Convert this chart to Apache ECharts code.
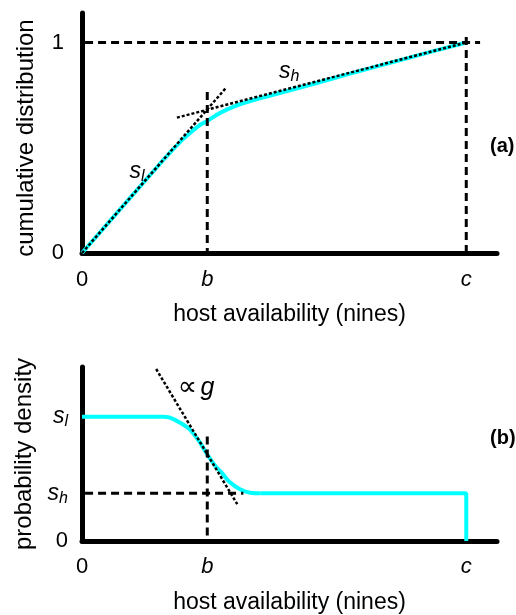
<!DOCTYPE html>
<html>
<head>
<meta charset="utf-8">
<style>html,body{margin:0;padding:0;background:#fff}#c{width:516px;height:615px}</style>
<script src="https://cdn.jsdelivr.net/npm/echarts@6/dist/echarts.min.js"></script>
</head>
<body>
<div id="c"></div>
<script>
// ---- axis ticks ----
const xTickValues = [0, 0.326, 1];
const xTickLabels = ['0', '{i|b}', '{i|c}'];
const cdfTickValues = [0, 1];
const cdfTickLabels = ['0', '1'];
const pdfTickValues = [0, 0.384, 1];
const pdfTickLabels = ['0', '{s|s}{sub|h}', '{s|s}{sub|l}'];

// ---- (a) cumulative distribution ----
const cdfX = [0, 0.216, 0.255, 0.281, 0.307, 0.326, 0.359, 0.398, 0.438, 0.490, 0.568, 0.700, 0.850, 1];
const cdfY = [0, 0.451, 0.527, 0.570, 0.608, 0.627, 0.665, 0.698, 0.722, 0.748, 0.786, 0.853, 0.927, 1];
const slopeLowX = [0, 0.375];
const slopeLowY = [0, 0.785];
const slopeHighX = [0.247, 1];
const slopeHighY = [0.643, 1];
const cdfRefH = {x: [0.008, 1.036], y: [1, 1]};
const cdfRefB = {x: [0.326, 0.326], y: [0.765, 0]};
const cdfRefC = {x: [1, 1], y: [1.026, 0]};
const cdfNotes = [[0.143, 0.385, '{s|s}{sub|l}'], [0.539, 0.860, '{s|s}{sub|h}']];

// ---- (b) probability density ----
const pdfX = [0, 0.211, 0.229, 0.255, 0.281, 0.307, 0.326, 0.346, 0.365, 0.385, 0.411, 0.438, 0.464];
const pdfY = [1, 1, 0.992, 0.952, 0.896, 0.792, 0.696, 0.608, 0.544, 0.472, 0.416, 0.388, 0.384];
const pdfTailX = [0.464, 1, 1];
const pdfTailY = [0.384, 0.384, 0];
const gradX = [0.193, 0.404];
const gradY = [1.384, 0.296];
const pdfRefH = {x: [0.008, 0.42], y: [0.384, 0.384]};
const pdfRefB = {x: [0.326, 0.326], y: [0.84, 0]};
const pdfNotes = [[0.297, 1.232, '{n|∝} {i|g}']];

const FONT = "'Liberation Sans', Arial, sans-serif";
const CYAN = '#00FFFF';
const pair = (xs, ys) => xs.map((x, i) => [x, ys[i]]);
const label = (vals, labs) => v => { const i = vals.findIndex(t => Math.abs(t - v) < 1e-9); return i < 0 ? '' : labs[i]; };

const tok = extra => Object.assign({fontFamily: FONT, color: '#000', textBorderWidth: 0, textShadowBlur: 0}, extra);
const richBase = {
  i: tok({fontStyle: 'italic', fontSize: 22}),
  s: tok({fontStyle: 'italic', fontSize: 23}),
  sub: tok({fontStyle: 'italic', fontSize: 16, verticalAlign: 'bottom', padding: [10, 0, 0, 0]}),
  n: tok({fontSize: 27, fontFamily: "'DejaVu Sans', sans-serif"})
};
const richNote = Object.assign({}, richBase, {i: tok({fontStyle: 'italic', fontSize: 25})});

const axisLine = {show: true, onZero: false, lineStyle: {color: '#000', width: 5, cap: 'round'}};

function xAxis(idx, name, gap, margin) {
  return {
    type: 'value', gridIndex: idx, min: 0, max: 1.08,
    name: name, nameLocation: 'middle', nameGap: gap,
    nameTextStyle: {fontSize: 23, fontFamily: FONT, color: '#000'},
    axisLine: axisLine, axisTick: {show: false}, splitLine: {show: false},
    axisLabel: {customValues: xTickValues, formatter: label(xTickValues, xTickLabels),
      fontSize: 22, fontFamily: FONT, color: '#000', margin: margin, rich: richBase}
  };
}
function yAxis(idx, name, max, vals, labs, margin, pad) {
  return {
    type: 'value', gridIndex: idx, min: 0, max: max,
    name: name, nameLocation: 'middle', nameGap: 44, nameRotate: 90,
    nameTextStyle: {fontSize: 24, fontFamily: FONT, color: '#000', padding: pad},
    axisLine: axisLine, axisTick: {show: false}, splitLine: {show: false},
    axisLabel: {customValues: vals, formatter: label(vals, labs),
      fontSize: 22, fontFamily: FONT, color: '#000', margin: margin, rich: richBase}
  };
}
function seg(g, data, color, width, type, z) {
  return {type: 'line', xAxisIndex: g, yAxisIndex: g, data: data, symbol: 'none', silent: true, z: z,
    lineStyle: {color: color, width: width, type: type, cap: 'butt'}, animation: false};
}
function notes(g, arr) {
  return {type: 'scatter', xAxisIndex: g, yAxisIndex: g, symbolSize: 0, silent: true, z: 10, animation: false,
    itemStyle: {color: '#000', opacity: 1},
    data: arr.map(a => ({value: [a[0], a[1]], label: {formatter: a[2]}})),
    label: {show: true, position: 'inside', rich: richNote, fontFamily: FONT, color: '#000', textBorderWidth: 0, opacity: 1}};
}

const DOT = [3, 2], DASH = [8, 5];
const chart = echarts.init(document.getElementById('c'), null, {renderer: 'canvas'});
chart.setOption({
  animation: false,
  backgroundColor: '#fff',
  grid: [
    {left: 82, top: 13, width: 415, height: 240},
    {left: 82, top: 367, width: 415, height: 175}
  ],
  xAxis: [xAxis(0, 'host availability (nines)', 50, 16), xAxis(1, 'host availability (nines)', 50, 15)],
  yAxis: [yAxis(0, 'cumulative distribution', 1.14, cdfTickValues, cdfTickLabels, 18, [0, 10, 0, 0]),
          yAxis(1, 'probability density', 1.4, pdfTickValues, pdfTickLabels, 14, 0)],
  graphic: [
    {type: 'text', left: 490, top: 136, style: {text: '(a)', font: 'bold 20px ' + FONT, fill: '#000'}},
    {type: 'text', left: 490, top: 428, style: {text: '(b)', font: 'bold 20px ' + FONT, fill: '#000'}}
  ],
  series: [
    Object.assign(seg(0, pair(cdfX, cdfY), CYAN, 4, 'solid', 2), {smooth: 0.3}),
    seg(0, pair(cdfRefH.x, cdfRefH.y), '#000', 3, DASH, 3),
    seg(0, pair(cdfRefB.x, cdfRefB.y), '#000', 3, DASH, 3),
    seg(0, pair(cdfRefC.x, cdfRefC.y), '#000', 3, DASH, 3),
    seg(0, pair(slopeLowX, slopeLowY), '#000', 2.5, DOT, 4),
    seg(0, pair(slopeHighX, slopeHighY), '#000', 2.5, DOT, 4),
    notes(0, cdfNotes),
    Object.assign(seg(1, pair(pdfX, pdfY), CYAN, 4, 'solid', 2), {smooth: 0.3}),
    seg(1, pair(pdfTailX, pdfTailY), CYAN, 4, 'solid', 2),
    seg(1, pair(pdfRefH.x, pdfRefH.y), '#000', 3, DASH, 3),
    seg(1, pair(pdfRefB.x, pdfRefB.y), '#000', 3, DASH, 3),
    seg(1, pair(gradX, gradY), '#000', 2.5, DOT, 4),
    notes(1, pdfNotes)
  ]
});
</script>
</body>
</html>
